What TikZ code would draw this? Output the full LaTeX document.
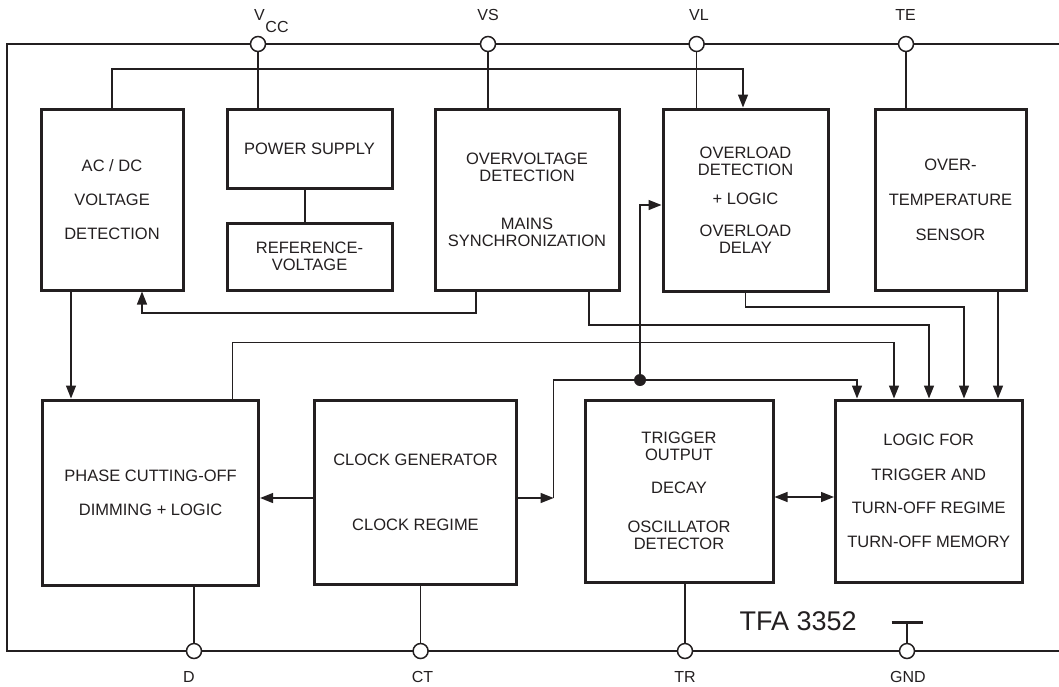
\documentclass[tikz,border=0pt]{standalone}
\usepackage{fontspec}
\setmainfont{Liberation Sans}
\usetikzlibrary{arrows.meta}
\definecolor{ink}{RGB}{35,31,32}
\begin{document}
\begin{tikzpicture}[x=1pt,y=-1pt,
  blk/.style={draw=ink,line width=3pt,inner sep=0pt,align=center,text=ink,
    font=\fontsize{16.5}{17}\selectfont},
  pinc/.style={circle,draw=ink,fill=white,line width=1.5pt,inner sep=0pt,minimum size=15pt},
  conn/.style={draw=ink,line width=1.4pt},
  arr/.style={conn,-{Triangle[length=13pt,width=10pt]}},
  dbl/.style={conn,{Triangle[length=13pt,width=10pt]}-{Triangle[length=13pt,width=10pt]}},
  jdot/.style={circle,fill=ink,inner sep=0pt,minimum size=12pt},
  lbl/.style={text=ink,font=\fontsize{16}{17}\selectfont,inner sep=0pt,anchor=base},
  frame/.style={draw=ink,line width=2.7pt}]
\useasboundingbox (0,0) rectangle (1059,686);
% frame
\draw[frame] (1059,44) -- (7,44) -- (7,651) -- (1059,651);
% pins
\node[pinc] (pvcc) at (258,44) {};
\node[pinc] (pvs) at (488,44) {};
\node[pinc] (pvl) at (696.6,44) {};
\node[pinc] (pte) at (906,44) {};
\node[pinc] (pd) at (194,651) {};
\node[pinc] (pct) at (420.6,651) {};
\node[pinc] (ptr) at (685,651) {};
\node[pinc] (pgnd) at (907,651) {};
% pin labels
\node[lbl] (lv) at (259.5,20.5) {V};
\node[lbl] (lcc) at (277,32) {CC};
\node[lbl] (lvs) at (488,20.5) {VS};
\node[lbl] (lvl) at (699,20.5) {VL};
\node[lbl] (lte) at (905.5,20.5) {TE};
\node[lbl] (ld) at (189,682.5) {D};
\node[lbl] (lct) at (422.5,682.5) {CT};
\node[lbl] (ltr) at (685,682.5) {TR};
\node[lbl] (lgnd) at (908,682.5) {GND};
\node[text=ink,font=\fontsize{27}{28}\selectfont,inner sep=0pt,anchor=base west] (tfa) at (739.5,630) {TFA 3352};
% blocks
\node[blk,minimum width=142pt,minimum height=181pt] (acdc) at (112,199.5) {AC / DC\\[17pt]VOLTAGE\\[17pt]DETECTION};
\node[blk,minimum width=165pt,minimum height=79pt] (ps) at (309.5,148.5) {POWER SUPPLY};
\node[blk,minimum width=165pt,minimum height=67pt] (ref) at (309.5,256.5) {REFERENCE-\\VOLTAGE};
\node[blk,minimum width=184pt,minimum height=181pt] (ov) at (527,199.5) {OVERVOLTAGE\\DETECTION\\[31pt]MAINS\\SYNCHRONIZATION};
\node[blk,minimum width=165pt,minimum height=182pt] (ol) at (745.5,200) {OVERLOAD\\DETECTION\\[12pt]+ LOGIC\\[15pt]OVERLOAD\\DELAY};
\node[blk,minimum width=151pt,minimum height=181pt] (ot) at (950.5,199.5) {OVER-\\[18pt]TEMPERATURE\\[18pt]SENSOR};
\node[blk,minimum width=216pt,minimum height=185pt] (phase) at (150.6,492.5) {PHASE CUTTING-OFF\\[17pt]DIMMING + LOGIC};
\node[blk,minimum width=202pt,minimum height=184pt] (clock) at (415.5,492) {CLOCK GENERATOR\\[48pt]CLOCK REGIME};
\node[blk,minimum width=188pt,minimum height=182pt] (trig) at (679,491) {TRIGGER\\OUTPUT\\[16pt]DECAY\\[22pt]OSCILLATOR\\DETECTOR};
\node[blk,minimum width=186.5pt,minimum height=182pt] (logic) at (928.75,491) {LOGIC FOR\\[18pt]TRIGGER AND\\[16pt]TURN-OFF REGIME\\[17pt]TURN-OFF MEMORY};
% pin connections
\draw[conn] (pvcc.south) -- (pvcc.south |- ps.north);
\draw[conn] (pvs.south) -- (pvs.south |- ov.north);
\draw[conn] (pvl.south) -- (pvl.south |- ol.north);
\draw[conn] (pte.south) -- (pte.south |- ot.north);
\draw[conn] (pd.north) -- (pd.north |- phase.south);
\draw[conn] (pct.north) -- (pct.north |- clock.south);
\draw[conn] (ptr.north) -- (ptr.north |- trig.south);
\coordinate (gbl) at (891.5,622);
\coordinate (gbr) at (922.6,622);
\draw[conn] (pgnd.north) -- (pgnd.north |- gbl);
\draw[draw=ink,line width=3pt] (gbl) -- (gbr);
% internal connections
\draw[conn] ([xshift=-4.5pt]ps.south) -- ([xshift=-4.5pt]ref.north);
\coordinate (bus) at (743,69);
\draw[arr] (acdc.north) |- (bus) -- (bus |- ol.north);
\draw[arr] ([xshift=-41pt]acdc.south) -- ([xshift=-41pt]acdc.south |- phase.north);
\coordinate (fb) at (142,313);
\draw[arr] ([xshift=-51pt]ov.south) |- (fb) -- (fb |- acdc.south);
\coordinate (k5) at (929,325);
\draw[arr] ([xshift=62pt]ov.south) |- (k5) -- (k5 |- logic.north);
\coordinate (k6) at (964,307);
\draw[arr] (ol.south) |- (k6) -- (k6 |- logic.north);
\draw[arr] ([xshift=47.5pt]ot.south) -- ([xshift=47.5pt]ot.south |- logic.north);
\coordinate (k8) at (894,342.5);
\draw[arr] ([xshift=82pt]phase.north) |- (k8) -- (k8 |- logic.north);
\coordinate (k9a) at (553.6,498);
\coordinate (k9b) at (553.6,380);
\coordinate (k9c) at (857,380);
\draw[arr] ([yshift=-6pt]clock.east) -- (k9a);
\draw[arr] (k9a) -- (k9b) -- (k9c) -- (k9c |- logic.north);
\node[jdot] (jn) at (640,380) {};
\coordinate (k10) at (640,205);
\draw[arr] (jn) -- (k10) -- (k10 -| ol.west);
\draw[arr] ([yshift=-6pt]clock.west) -- ([yshift=-6pt]clock.west -| phase.east);
\draw[dbl] ([yshift=-6pt]trig.east) -- ([yshift=-6pt]trig.east -| logic.west);
\end{tikzpicture}
\end{document}
